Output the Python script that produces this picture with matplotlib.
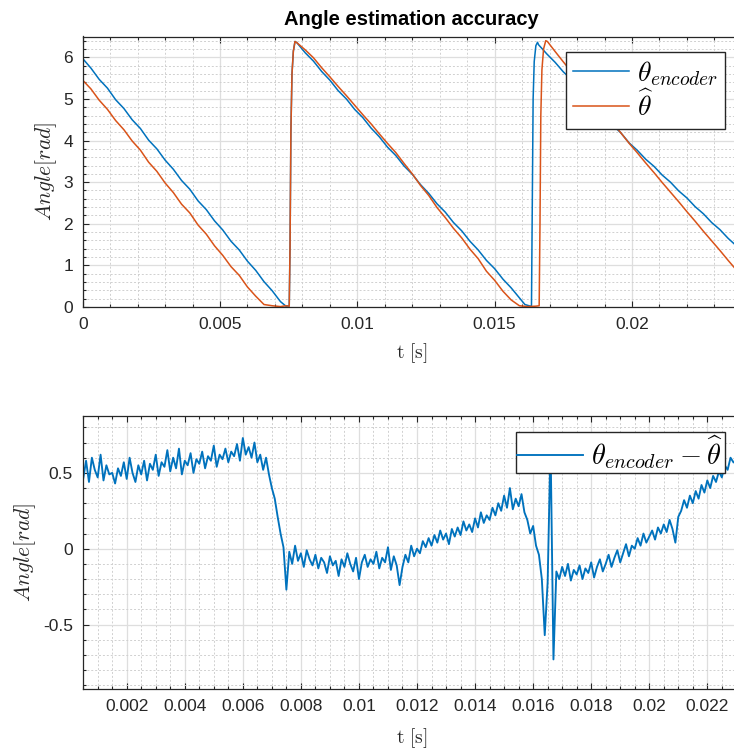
import numpy as np
import matplotlib
matplotlib.use("Agg")
import matplotlib.pyplot as plt
from matplotlib.ticker import MultipleLocator, FixedLocator, FixedFormatter

plt.rcParams['mathtext.fontset'] = 'cm'
plt.rcParams['font.family'] = ['Liberation Sans', 'DejaVu Sans']

BLUE = '#0072BD'
ORANGE = '#D95319'

# ---------------- top: encoder angle ----------------
t_enc = [0.0, 0.0003, 0.0006, 0.0009, 0.0012, 0.0015, 0.0018, 0.0021, 0.0024, 0.0027,
         0.0030, 0.0033, 0.0036, 0.0039, 0.0042, 0.0045, 0.0048, 0.0051, 0.0054, 0.0057,
         0.0060, 0.0063, 0.0066, 0.0069, 0.0072, 0.0074, 0.00752,
         0.00755, 0.00758, 0.00762, 0.00767, 0.00773, 0.0078,
         0.0081, 0.0084, 0.0087, 0.0090, 0.0093, 0.0096, 0.0099, 0.0102, 0.0105, 0.0108,
         0.0111, 0.0114, 0.0117, 0.0120, 0.0123, 0.0126, 0.0129, 0.0132, 0.0135, 0.0138,
         0.0141, 0.0144, 0.0147, 0.0150, 0.0153, 0.0156, 0.0159, 0.0161, 0.0163, 0.01634,
         0.01637, 0.0164, 0.01644, 0.0165, 0.01656, 0.0166,
         0.0169, 0.0172, 0.0175, 0.0178, 0.0181, 0.0184, 0.0187, 0.0190, 0.0193, 0.0196,
         0.0199, 0.0202, 0.0205, 0.0208, 0.0211, 0.0214, 0.0217, 0.0220, 0.0223, 0.0226,
         0.0229, 0.0232, 0.0235, 0.0238, 0.0240]
v_enc = [5.97, 5.74, 5.47, 5.26, 4.98, 4.77, 4.50, 4.29, 4.01, 3.80,
         3.53, 3.31, 3.04, 2.83, 2.55, 2.34, 2.07, 1.85, 1.58, 1.37,
         1.10, 0.88, 0.61, 0.39, 0.13, 0.02, 0.03,
         1.50, 4.20, 5.60, 6.15, 6.38, 6.35,
         6.11, 5.91, 5.66, 5.45, 5.20, 5.00, 4.75, 4.55, 4.30, 4.09,
         3.84, 3.64, 3.39, 3.19, 2.94, 2.73, 2.48, 2.28, 2.03, 1.83,
         1.58, 1.37, 1.12, 0.92, 0.67, 0.46, 0.22, 0.06, 0.02, 0.03,
         2.50, 5.00, 5.90, 6.28, 6.36, 6.30,
         6.08, 5.88, 5.65, 5.46, 5.22, 5.03, 4.80, 4.60, 4.37, 4.18,
         3.94, 3.76, 3.55, 3.38, 3.17, 3.00, 2.79, 2.62, 2.41, 2.24,
         2.03, 1.86, 1.65, 1.47, 1.34]

# ---------------- top: estimated angle ----------------
t_est = [0.0, 0.0003, 0.0006, 0.0009, 0.0012, 0.0015, 0.0018, 0.0021, 0.0024, 0.0027,
         0.0030, 0.0033, 0.0036, 0.0039, 0.0042, 0.0045, 0.0048, 0.0051, 0.0054, 0.0057,
         0.0060, 0.0063, 0.0066, 0.0069, 0.0072, 0.0074, 0.00752,
         0.00755, 0.00758, 0.00762, 0.00767, 0.00773, 0.0078,
         0.0081, 0.0084, 0.0087, 0.0090, 0.0093, 0.0096, 0.0099, 0.0102, 0.0105, 0.0108,
         0.0111, 0.0114, 0.0117, 0.0120, 0.0123, 0.0126, 0.0129, 0.0132, 0.0135, 0.0138,
         0.0141, 0.0144, 0.0147, 0.0150, 0.0153, 0.0156, 0.0159, 0.0162, 0.0165, 0.01662,
         0.01665, 0.01668, 0.01672, 0.01678, 0.01686, 0.01692,
         0.0172, 0.0175, 0.0178, 0.0181, 0.0184, 0.0187, 0.0190, 0.0193, 0.0196,
         0.0199, 0.0202, 0.0205, 0.0208, 0.0211, 0.0214, 0.0217, 0.0220, 0.0223, 0.0226,
         0.0229, 0.0232, 0.0235, 0.0238, 0.0240]
v_est = [5.45, 5.24, 4.97, 4.75, 4.48, 4.26, 3.99, 3.77, 3.48, 3.26,
         2.98, 2.75, 2.47, 2.26, 1.97, 1.75, 1.47, 1.24, 0.97, 0.76,
         0.48, 0.26, 0.06, 0.03, 0.01, 0.03, 0.02,
         1.50, 4.20, 5.60, 6.15, 6.38, 6.35,
         6.18, 5.99, 5.75, 5.53, 5.30, 5.08, 4.85, 4.62, 4.40, 4.16,
         3.93, 3.71, 3.45, 3.20, 2.92, 2.68, 2.39, 2.15, 1.89, 1.66,
         1.39, 1.16, 0.86, 0.64, 0.38, 0.17, 0.03, 0.01, 0.02, 0.03,
         2.00, 4.60, 5.70, 6.20, 6.40, 6.38,
         6.14, 5.89, 5.65, 5.40, 5.16, 4.91, 4.67, 4.42, 4.18,
         3.93, 3.70, 3.46, 3.23, 2.99, 2.76, 2.53, 2.29, 2.06, 1.82,
         1.59, 1.36, 1.12, 0.89, 0.74]

# ---------------- bottom: error, sampled every 0.1 ms from 0.5 ms ----------------
t_err_start = 0.0005
t_err_step = 0.0001
err = [
    0.46, 0.58, 0.44, 0.60, 0.52, 0.47, 0.62, 0.45, 0.55, 0.49,
    0.50, 0.43, 0.53, 0.48, 0.57, 0.46, 0.60, 0.50, 0.44, 0.55,
    0.49, 0.58, 0.45, 0.56, 0.52, 0.62, 0.48, 0.57, 0.54, 0.65,
    0.51, 0.60, 0.53, 0.66, 0.49, 0.58, 0.55, 0.63, 0.50, 0.59,
    0.56, 0.64, 0.53, 0.61, 0.58, 0.68, 0.54, 0.62, 0.59, 0.66,
    0.57, 0.64, 0.61, 0.69, 0.58, 0.73, 0.62, 0.67, 0.60, 0.70,
    0.57, 0.62, 0.52, 0.60, 0.49, 0.40, 0.33, 0.21, 0.10, 0.01,
    -0.27, -0.02, -0.10, 0.02, -0.08, -0.03, -0.12, -0.01, -0.07, -0.11,
    -0.04, -0.13, -0.06, -0.09, -0.16, -0.05, -0.11, -0.08, -0.18, -0.07,
    -0.12, -0.03, -0.10, -0.15, -0.06, -0.20, -0.09, -0.04, -0.12, -0.07,
    -0.10, -0.02, -0.13, -0.06, -0.09, 0.01, -0.14, -0.05, -0.11, -0.24,
    -0.12, -0.04, -0.09, 0.02, -0.05, 0.00, -0.03, 0.05, 0.01, 0.07,
    0.02, 0.09, 0.04, 0.12, 0.06, 0.10, 0.03, 0.13, 0.08, 0.14,
    0.09, 0.18, 0.12, 0.16, 0.11, 0.20, 0.14, 0.24, 0.17, 0.22,
    0.19, 0.27, 0.22, 0.30, 0.25, 0.35, 0.27, 0.40, 0.26, 0.33,
    0.28, 0.36, 0.24, 0.19, 0.10, 0.15, 0.02, -0.04, -0.20, -0.57,
    -0.22, 0.70, -0.73, -0.15, -0.20, -0.12, -0.18, -0.10, -0.21, -0.14,
    -0.17, -0.11, -0.20, -0.13, -0.16, -0.09, -0.19, -0.12, -0.07, -0.15,
    -0.10, -0.04, -0.12, -0.06, -0.01, -0.09, -0.03, 0.03, -0.05, 0.02,
    0.00, 0.07, 0.02, 0.10, 0.04, 0.08, 0.12, 0.06, 0.14, 0.10,
    0.16, 0.11, 0.19, 0.13, 0.04, 0.21, 0.25, 0.32, 0.27, 0.35,
    0.30, 0.38, 0.33, 0.42, 0.37, 0.45, 0.40, 0.48, 0.44, 0.51,
    0.47, 0.55, 0.52, 0.60, 0.57,
]
t_err = t_err_start + t_err_step * np.arange(len(err))

top_xticks = [0, 0.005, 0.01, 0.015, 0.02]
top_xticklabels = ['0', '0.005', '0.01', '0.015', '0.02']
top_yticks = [0, 1, 2, 3, 4, 5, 6]
bot_xticks = [0.002, 0.004, 0.006, 0.008, 0.010, 0.012, 0.014, 0.016, 0.018, 0.020, 0.022]
bot_xticklabels = ['0.002', '0.004', '0.006', '0.008', '0.01', '0.012', '0.014',
                   '0.016', '0.018', '0.02', '0.022']
bot_yticks = [-0.5, 0, 0.5]
bot_yticklabels = ['-0.5', '0', '0.5']

W, H = 734, 749
fig = plt.figure(figsize=(W / 100, H / 100), dpi=100)

def frac_box(x0, y0, x1, y1):
    return [x0 / W, 1 - y1 / H, (x1 - x0) / W, (y1 - y0) / H]

ax1 = fig.add_axes(frac_box(82.7, 36.5, 740, 307))
ax2 = fig.add_axes(frac_box(82.7, 416, 740, 689))

TXT = '#262626'

def style(ax):
    ax.set_axisbelow(True)
    ax.grid(which='major', color='#dedede', lw=0.9, ls='-')
    ax.grid(which='minor', color='#d0d0d0', lw=0.7, ls=(0, (2, 2)))
    ax.tick_params(which='both', direction='in', top=True, right=True,
                   colors=TXT, labelsize=12.5, width=0.8)
    ax.tick_params(which='major', length=4.5, pad=7)
    ax.tick_params(which='minor', length=2.5)
    for s in ax.spines.values():
        s.set_color(TXT)
        s.set_linewidth(0.9)

# top axes
ax1.plot(t_enc, v_enc, color=BLUE, lw=1.1, label=r'$\theta_{encoder}$')
ax1.plot(t_est, v_est, color=ORANGE, lw=1.1, label=r'$\widehat{\theta}$')
ax1.set_xlim(0, (740 - 82.7) / 27465)
ax1.set_ylim(0, 6.5)
ax1.xaxis.set_major_locator(FixedLocator(top_xticks))
ax1.xaxis.set_major_formatter(FixedFormatter(top_xticklabels))
ax1.xaxis.set_minor_locator(MultipleLocator(0.001))
ax1.yaxis.set_major_locator(FixedLocator(top_yticks))
ax1.yaxis.set_minor_locator(MultipleLocator(0.2))
style(ax1)
ax1.set_title('Angle estimation accuracy', fontsize=14.5, fontweight='bold',
              color='black', pad=8)
ax1.set_xlabel(r'$\mathrm{t}\ [\mathrm{s}]$', fontsize=14, color=TXT)
ax1.xaxis.set_label_coords(0.5, -0.125)
ax1.set_ylabel(r'$Angle[rad]$', fontsize=15.5, color=TXT)
ax1.yaxis.set_label_coords(-0.036, 0.5)
leg1 = ax1.legend(loc='upper right', bbox_to_anchor=(725 / W, 1 - 52 / H),
                  bbox_transform=fig.transFigure, borderaxespad=0,
                  fontsize=20, fancybox=False, framealpha=1, edgecolor='#262626',
                  handlelength=2.0, handletextpad=0.3, labelspacing=0.1,
                  borderpad=0.25)
leg1.get_frame().set_linewidth(1.0)

# bottom axes
ax2.plot(t_err, err, color=BLUE, lw=1.35, label=r'$\theta_{encoder}-\widehat{\theta}$')
ax2.set_xlim(0.000484, 0.000484 + (740 - 82.7) / 29030)
ax2.set_ylim(-0.925, 0.875)
ax2.xaxis.set_major_locator(FixedLocator(bot_xticks))
ax2.xaxis.set_major_formatter(FixedFormatter(bot_xticklabels))
ax2.xaxis.set_minor_locator(MultipleLocator(0.0005))
ax2.yaxis.set_major_locator(FixedLocator(bot_yticks))
ax2.yaxis.set_major_formatter(FixedFormatter(bot_yticklabels))
ax2.yaxis.set_minor_locator(MultipleLocator(0.1))
style(ax2)
ax2.set_xlabel(r'$\mathrm{t}\ [\mathrm{s}]$', fontsize=14, color=TXT)
ax2.xaxis.set_label_coords(0.5, -0.137)
ax2.set_ylabel(r'$Angle[rad]$', fontsize=15.5, color=TXT)
ax2.yaxis.set_label_coords(-0.068, 0.5)
leg2 = ax2.legend(loc='upper right', bbox_to_anchor=(725 / W, 1 - 432 / H),
                  bbox_transform=fig.transFigure, borderaxespad=0,
                  fontsize=20.5, fancybox=False, framealpha=1, edgecolor='#262626',
                  handlelength=2.3, handletextpad=0.3, borderpad=0.05)
leg2.get_frame().set_linewidth(1.0)

fig.savefig('out.png', dpi=100)
